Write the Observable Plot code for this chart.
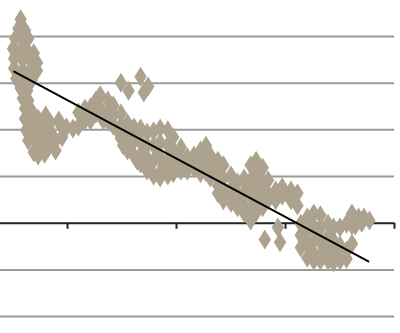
<!DOCTYPE html>
<html>
<head>
<meta charset="utf-8">
<script src="https://cdn.jsdelivr.net/npm/d3@7"></script>
<script src="https://cdn.jsdelivr.net/npm/@observablehq/plot@0.6"></script>
<style>
  html, body { margin: 0; padding: 0; background: #ffffff; }
  #chart svg { display: block; }
</style>
</head>
<body>
<div id="chart"></div>
<script>
// Scatter values (x, y)
const xs = [
  0.57,0.55,0.61,0.52,0.59,0.64,0.50,0.57,0.63,0.69,0.51,0.59,0.66,0.72,0.51,0.59,0.66,0.72,0.53,0.61,0.67,0.57,0.63,
  0.59,0.64,0.61,0.68,0.61,0.66,0.73,0.80,0.62,0.70,0.77,0.84,0.92,0.64,0.72,0.79,0.86,0.69,0.75,0.82,0.89,0.95,0.73,
  0.75,0.83,0.66,0.89,0.79,
  0.94,0.99,1.05,1.10,1.10,1.16,1.16,1.21,1.21,1.26,1.26,
  1.30,1.30,1.30,1.37,1.37,1.37,1.42,1.42,1.42,1.49,1.49,1.49,1.55,1.55,1.55,1.61,1.61,1.61,
  1.67,1.67,1.67,1.67,1.73,1.73,1.73,1.73,1.79,1.79,1.79,1.79,1.85,1.85,1.85,1.85,1.85,
  1.92,1.92,1.92,1.92,1.97,1.97,1.97,1.97,2.04,2.04,2.04,2.10,2.10,2.16,2.16,2.22,2.22,2.22,
  1.33,1.46,1.51,1.58,1.64,1.64,1.70,1.76,1.82,1.88,1.94,2.01,2.06,2.13,2.19,
  1.49,1.56,1.67,1.74,1.70,
  2.27,2.27,2.27,2.31,2.31,2.31,2.38,2.38,2.38,2.38,2.43,2.43,2.43,2.43,2.50,2.50,2.50,2.56,2.56,2.56,
  2.62,2.62,2.62,2.62,2.68,2.68,2.68,2.68,2.68,2.73,2.73,2.73,2.73,2.73,2.79,2.79,2.79,2.79,2.84,2.84,2.84,
  2.34,2.40,2.47,2.52,2.59,2.65,2.75,2.82,
  2.81,2.91,2.91,2.93,2.95,2.97,2.97,3.05,3.05,3.11,3.11,
  3.14,3.14,3.14,3.20,3.20,3.20,3.20,3.26,3.26,3.26,3.26,3.26,3.32,3.32,3.32,3.32,3.32,
  3.39,3.39,3.39,3.39,3.44,3.44,3.44,3.44,3.50,3.50,3.50,3.56,3.56,3.56,3.61,3.61,3.61,3.67,3.67,3.72,3.77,
  3.17,3.23,3.29,3.35,3.41,3.48,3.64,3.70
];
const ys = [
  4.37,4.17,4.13,3.96,3.92,3.96,3.74,3.70,3.70,3.64,3.53,3.49,3.49,3.44,3.32,3.27,3.27,3.27,3.10,3.06,3.06,2.89,2.84,
  2.67,2.63,2.46,2.37,2.24,2.16,2.24,2.31,1.99,1.94,2.03,2.16,2.20,1.77,1.73,1.77,1.88,1.52,1.56,1.60,1.56,1.84,1.45,
  1.88,2.03,2.42,1.77,1.49,
  2.09,2.05,2.03,2.37,2.07,2.46,2.20,2.48,2.20,2.63,2.35,
  2.74,2.46,2.31,2.63,2.37,2.20,2.52,2.31,2.09,2.35,2.09,1.82,2.14,1.88,1.56,2.05,1.77,1.45,
  2.03,1.73,1.45,1.28,1.94,1.67,1.39,1.13,1.97,1.67,1.34,1.02,2.03,1.73,1.41,1.09,0.98,
  1.99,1.67,1.34,1.02,1.84,1.56,1.24,1.07,1.62,1.34,1.13,1.41,1.13,1.45,1.19,1.56,1.28,1.07,
  2.20,1.99,1.67,1.67,1.88,1.34,1.56,1.24,1.56,1.24,1.45,1.34,1.24,1.30,1.34,
  3.01,2.84,3.14,2.93,2.80,
  1.66,1.39,1.09,1.45,1.19,0.98,1.34,1.09,0.81,0.64,1.24,0.96,0.70,0.49,1.02,0.74,0.44,0.87,0.59,0.34,
  0.96,0.66,0.38,0.23,1.24,0.92,0.59,0.27,0.06,1.34,1.02,0.70,0.38,0.23,1.19,0.87,0.55,0.34,0.92,0.59,0.49,
  1.24,0.92,0.59,0.92,0.49,0.81,0.59,0.70,
  -0.35,0.70,0.49,-0.09,-0.41,0.77,0.59,0.70,0.49,0.64,0.38,
  -0.01,-0.26,-0.52,0.12,-0.16,-0.44,-0.74,0.21,-0.07,-0.37,-0.65,-0.80,0.17,-0.11,-0.41,-0.69,-0.80,
  -0.01,-0.29,-0.59,-0.80,-0.09,-0.37,-0.63,-0.84,-0.09,-0.48,-0.80,-0.01,-0.59,-0.76,0.21,-0.05,-0.44,0.12,0.06,0.12,0.06,
  -0.37,-0.58,-0.22,-0.54,-0.69,-0.59,-0.05,0.01
];
// Linear trend line end points
const trendX = [0.51, 3.76];
const trendY = [3.25, -0.82];
// Grid and axis values
const gridValues = [-2, -1, 1, 2, 3, 4];
const axisValue = [0];
const xTicks = [1, 2, 3, 4];

const points = xs.map((x, i) => ({x, y: ys[i]}));
const trend = trendX.map((x, i) => ({x, y: trendY[i]}));

// tall diamond marker (like the stretched Excel diamond)
const tallDiamond = {
  draw(context, size) {
    const s = Math.sqrt(size / Math.PI);
    const w = s * 0.62, h = s;
    context.moveTo(0, -h);
    context.lineTo(w, 0);
    context.lineTo(0, h);
    context.lineTo(-w, 0);
    context.closePath();
  }
};

const chart = Plot.plot({
  width: 400,
  height: 333,
  marginTop: 0,
  marginLeft: 0,
  marginRight: 6,
  marginBottom: 0,
  x: {domain: [0.385, 4], axis: null},
  y: {domain: [-2.363, 4.772], axis: null},
  marks: [
    Plot.ruleY(gridValues, {stroke: "#9a9a9a", strokeWidth: 2}),
    Plot.ruleY(axisValue, {stroke: "#222", strokeWidth: 2}),
    Plot.ruleX(xTicks, {y1: 0, y2: -0.13, stroke: "#222", strokeWidth: 2}),
    Plot.dot(points, {x: "x", y: "y", r: 10, symbol: tallDiamond, fill: "#aca28e", stroke: "none"}),
    Plot.line(trend, {x: "x", y: "y", stroke: "#000", strokeWidth: 2})
  ]
});
document.getElementById("chart").appendChild(chart);
</script>
</body>
</html>
